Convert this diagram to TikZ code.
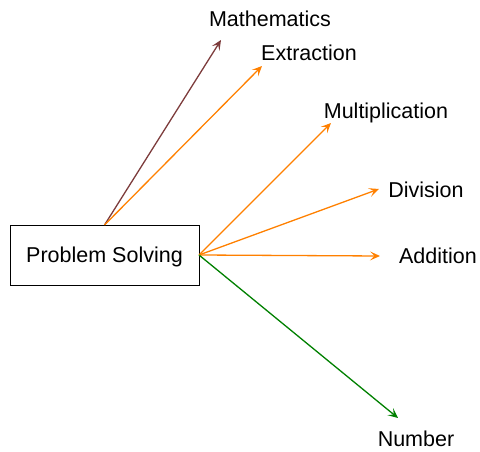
\documentclass[tikz,border=0pt]{standalone}
\usepackage{fontspec}
\setmainfont{Liberation Sans}
\usetikzlibrary{arrows.meta}

\begin{document}
\begin{tikzpicture}[
  x=1pt, y=-1pt,
  box/.style={draw, line width=1pt, minimum width=189pt, minimum height=60pt, inner sep=0pt, text depth=0pt, font=\fontsize{21.5}{25}\selectfont},
  word/.style={inner sep=0pt, font=\fontsize{21.5}{25}\selectfont},
  arrow/.style={-{Stealth[length=10pt, width=9pt, inset=4.5pt]}, line width=1.3pt}
]
\useasboundingbox (0,0) rectangle (480,452);

% Central box
\node[box] (ps) at (104.5,255) {Problem Solving};

% Labels
\node[word] (math) at (270,19) {Mathematics};
\node[word] (extr) at (309,53) {Extraction};
\node[word] (mult) at (386,113) {Multiplication};
\node[word] (divi) at (426,190) {Division};
\node[word] (addi) at (438,256) {Addition};
\node[word] (numb) at (416,439) {Number};

% Arrow tips
\coordinate (mathtip) at (221,40);
\coordinate (extrtip) at (262,66);
\coordinate (multtip) at (331,123);
\coordinate (divitip) at (379,189);
\coordinate (additip) at (380,256);
\coordinate (numbtip) at (398,418);
\coordinate (top) at (104.5,225);
\coordinate (side) at (199,255);

% Connections
\draw[arrow, color={rgb,255:red,125;green,60;blue,60}] (top) -- (mathtip);
\draw[arrow, color={rgb,255:red,255;green,128;blue,0}] (top) -- (extrtip);
\draw[arrow, color={rgb,255:red,255;green,128;blue,0}] (side) -- (multtip);
\draw[arrow, color={rgb,255:red,255;green,128;blue,0}] (side) -- (divitip);
\draw[arrow, color={rgb,255:red,255;green,128;blue,0}] (side) -- (additip);
\draw[arrow, color={rgb,255:red,0;green,128;blue,0}] (side) -- (numbtip);

\end{tikzpicture}
\end{document}
